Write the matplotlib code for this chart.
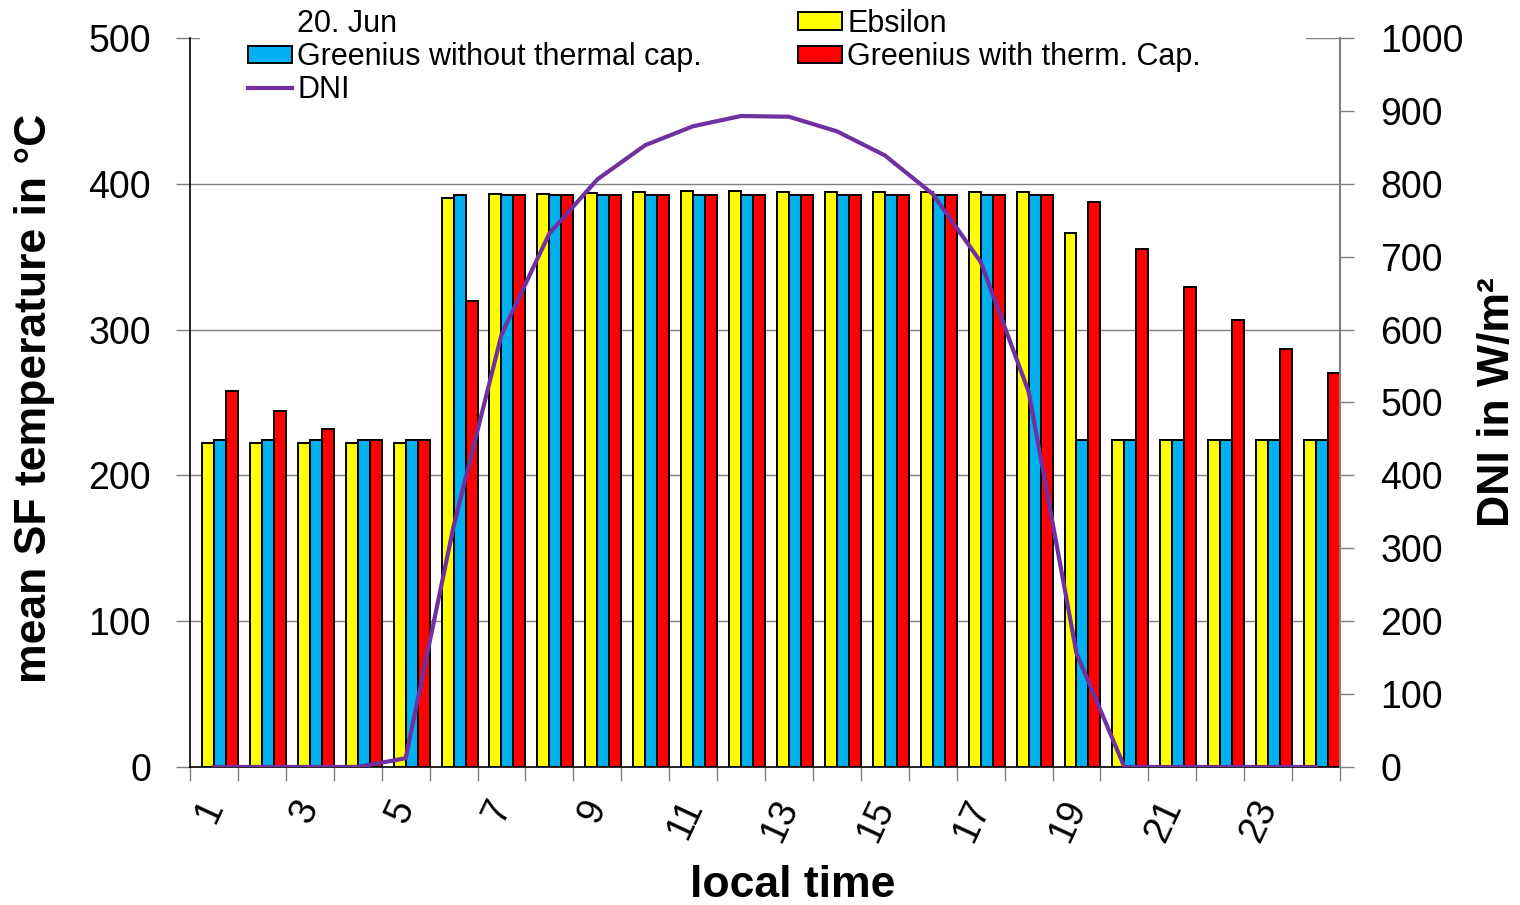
import matplotlib
matplotlib.use("Agg")
import matplotlib.pyplot as plt
from matplotlib.patches import Patch, Rectangle
from matplotlib.lines import Line2D
import numpy as np

plt.rcParams['font.family'] = ['Liberation Sans', 'DejaVu Sans']

hours = np.arange(1, 25)
hour_labels = [str(h) for h in range(1, 25, 2)]

ebsilon = [222.5, 222.5, 222.5, 222.5, 222.5, 390.5, 393, 393, 394, 394.5, 395, 395,
           394.5, 394.5, 394.5, 394.5, 394.5, 394.5, 366.5, 224, 224, 224, 224, 224]
greenius_no_cap = [224, 224, 224, 224, 224, 392, 392, 392, 392, 392, 392, 392,
                   392, 392, 392, 392, 392, 392, 224, 224, 224, 224, 224, 224]
greenius_cap = [258, 244.5, 232, 224, 224, 319.5, 392, 392, 392, 392, 392, 392,
                392, 392, 392, 392, 392, 392, 387.5, 355.5, 329, 306.5, 287, 270.5]
dni = [0, 0, 0, 0, 12, 330, 593, 732, 806, 853, 879, 893,
       892, 872, 839, 786, 693, 515, 156, 0, 0, 0, 0, 0]

fig = plt.figure(figsize=(15.2, 9.05), dpi=100)
ax = fig.add_axes([0.125, 0.1525, 0.7566, 0.8055])

w = 0.25
bar_kw = dict(width=w, edgecolor='black', linewidth=1.4, zorder=2)
ax.bar(hours - 0.125, ebsilon, color='#FFFF00', **bar_kw)
ax.bar(hours + 0.125, greenius_no_cap, color='#00B0F0', **bar_kw)
ax.bar(hours + 0.375, greenius_cap, color='#FF0000', **bar_kw)

ax.set_xlim(0.5, 24.5)
ax.set_ylim(0, 500)
ax.set_yticks(range(0, 501, 100))
ax.yaxis.grid(True, color='#808080', linewidth=1.0)
ax.set_axisbelow(True)

ax.set_xticks(range(1, 25, 2))
ax.set_xticklabels(hour_labels, rotation=65, ha='right', va='center',
                   rotation_mode='anchor')
ax.set_xticks(np.arange(0.5, 24.6, 1), minor=True)
ax.tick_params(axis='x', which='major', length=0, pad=25, labelsize=27)
ax.tick_params(axis='x', which='minor', length=10, color='#808080', width=1.0)
ax.tick_params(axis='y', length=10, color='#808080', width=1.0, pad=18, labelsize=27)

for s in ['top', 'right']:
    ax.spines[s].set_visible(False)
ax.spines['left'].set_color('black')
ax.spines['bottom'].set_color('black')
ax.spines['left'].set_linewidth(1.2)
ax.spines['bottom'].set_linewidth(1.2)

ax.set_xlabel('local time', fontsize=32, fontweight='bold')
ax.xaxis.set_label_coords(0.524, -0.162)
ax.xaxis.label.set_va('center')
ax.set_ylabel('mean SF temperature in °C', fontsize=32, fontweight='bold')
ax.yaxis.set_label_coords(-0.135, 0.505)
ax.yaxis.label.set_va('center')

# DNI on the secondary axis
ax2 = ax.twinx()
ax2.plot(hours, dni, color='#7030A0', linewidth=3, zorder=3)
ax2.set_ylim(0, 1000)
ax2.set_yticks(range(0, 1001, 100))
ax2.tick_params(axis='y', length=10, color='#808080', width=1.0, pad=19, labelsize=27)
for s in ['top', 'left', 'bottom']:
    ax2.spines[s].set_visible(False)
ax2.spines['right'].set_color('#808080')
ax2.spines['right'].set_linewidth(1.5)
ax2.set_ylabel('DNI in W/m²', fontsize=32, fontweight='bold', rotation=90)
ax2.yaxis.set_label_coords(1.1365, 0.5)
ax2.yaxis.label.set_va('center')

# white backing behind the legend block
fig.patches.append(Rectangle((200 / 1520, 1 - 106 / 905), 1106 / 1520, 106 / 905,
                             transform=fig.transFigure, facecolor='white',
                             edgecolor='none', zorder=1))

handles = [
    Patch(facecolor='none', edgecolor='none'),
    Patch(facecolor='#00B0F0', edgecolor='black', linewidth=1.4),
    Line2D([], [], color='#7030A0', linewidth=3),
    Patch(facecolor='#FFFF00', edgecolor='black', linewidth=1.4),
    Patch(facecolor='#FF0000', edgecolor='black', linewidth=1.4),
]
labels = ['20. Jun', 'Greenius without thermal cap.', 'DNI',
          'Ebsilon', 'Greenius with therm. Cap.']
fig.legend(handles, labels, loc='upper left', bbox_to_anchor=(248 / 1520, 0.990),
           ncol=2, frameon=False, fontsize=22, borderpad=0, borderaxespad=0,
           handlelength=1.45, handleheight=0.5, handletextpad=0.16,
           labelspacing=0.1, columnspacing=3.15)

fig.savefig('out.png', dpi=100)
